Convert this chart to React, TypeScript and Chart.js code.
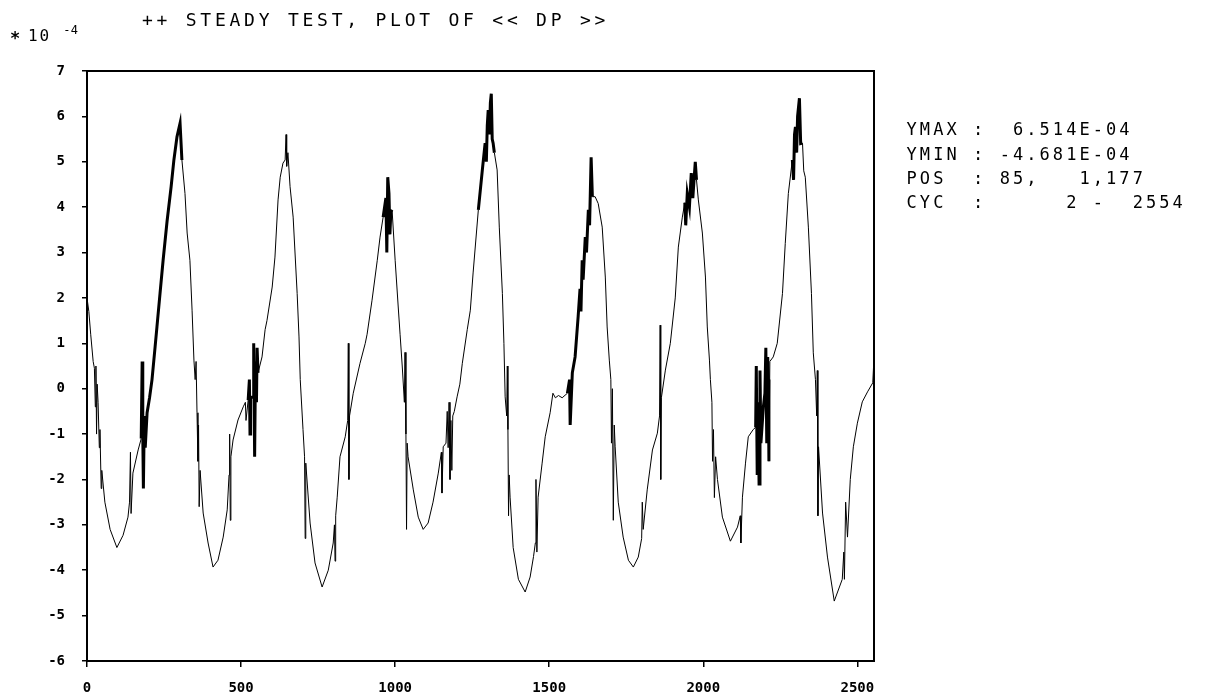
import React, { useEffect, useRef } from "react";
import { Chart, registerables } from "chart.js";

Chart.register(...registerables);

// ---- data (values in units of 1e-4) ----
const xValues: number[] = [
  0, 6, 12, 20, 24, 27, 29, 31, 33, 36, 40, 42, 46, 48, 58, 75, 97, 117, 133, 138,
  141, 143, 149, 166, 176, 179, 181, 183, 186, 189, 195, 203, 211, 221, 227, 237, 247, 260, 273, 282,
  292, 302, 308, 318, 325, 334, 341, 347, 351, 354, 357, 360, 362, 364, 367, 377, 393, 409, 425, 442,
  455, 461, 463, 465, 467, 474, 490, 507, 514, 516, 523, 527, 529, 531, 539, 541, 544, 547, 550, 552,
  555, 568, 578, 584, 601, 610, 620, 627, 636, 643, 646, 648, 652, 659, 669, 682, 688, 692, 701, 706,
  708, 710, 724, 740, 763, 783, 799, 803, 805, 807, 812, 821, 838, 846, 848, 850, 852, 864, 886, 903,
  909, 925, 942, 951, 961, 970, 973, 976, 980, 983, 986, 990, 1000, 1010, 1016, 1023, 1030, 1032, 1035, 1037,
  1039, 1042, 1059, 1075, 1091, 1107, 1123, 1140, 1150, 1152, 1156, 1165, 1169, 1172, 1175, 1178, 1181, 1184, 1187, 1192,
  1201, 1210, 1218, 1234, 1244, 1253, 1270, 1283, 1292, 1296, 1299, 1302, 1306, 1309, 1312, 1315, 1318, 1322, 1331, 1338,
  1348, 1353, 1357, 1362, 1364, 1366, 1368, 1370, 1373, 1383, 1400, 1422, 1438, 1449, 1455, 1457, 1460, 1464, 1477, 1487,
  1503, 1512, 1520, 1530, 1542, 1559, 1566, 1568, 1575, 1584, 1594, 1600, 1603, 1607, 1610, 1617, 1621, 1627, 1631, 1636,
  1640, 1649, 1659, 1672, 1682, 1688, 1695, 1700, 1702, 1705, 1708, 1711, 1714, 1724, 1740, 1757, 1773, 1789, 1800, 1802,
  1805, 1818, 1835, 1851, 1858, 1860, 1862, 1864, 1877, 1893, 1909, 1919, 1932, 1940, 1943, 1948, 1955, 1961, 1966, 1974,
  1978, 1984, 1997, 2007, 2013, 2020, 2023, 2028, 2030, 2033, 2036, 2040, 2046, 2062, 2088, 2111, 2120, 2122, 2127, 2137,
  2146, 2162, 2170, 2172, 2175, 2178, 2181, 2184, 2187, 2195, 2200, 2203, 2206, 2209, 2211, 2213, 2216, 2227, 2240, 2257,
  2266, 2276, 2289, 2293, 2296, 2299, 2303, 2306, 2312, 2316, 2322, 2326, 2331, 2341, 2351, 2357, 2364, 2368, 2370, 2372,
  2374, 2387, 2403, 2425, 2451, 2456, 2458, 2462, 2468, 2477, 2487, 2500, 2516, 2533, 2550, 2554,
];

const yValues: number[] = [
  2.0, 1.7, 1.2, 0.6, 0.45, -0.4, 0.5, -1.0, 0.1, -0.3, -1.3, -0.9, -2.2, -1.8, -2.5, -3.1, -3.5, -3.23, -2.83, -2.5,
  -1.4, -2.75, -1.86, -1.35, -1.1, 0.6, -1.0, -2.2, -0.6, -1.3, -0.53, -0.2, 0.2, 0.92, 1.36, 2.1, 2.83, 3.7, 4.45, 5.04,
  5.55, 5.85, 5.04, 4.3, 3.43, 2.83, 1.73, 0.63, 0.2, 0.6, -0.53, -1.6, -0.8, -2.6, -1.8, -2.74, -3.4, -3.93, -3.78, -3.27,
  -2.67, -1.9, -1.0, -2.9, -1.5, -1.13, -0.69, -0.4, -0.3, -0.7, -0.25, 0.2, -1.0, -0.2, -0.18, 1.0, -1.5, 0.6, -0.3, 0.9,
  0.35, 0.7, 1.3, 1.5, 2.24, 2.9, 4.16, 4.66, 4.97, 5.04, 5.6, 4.9, 5.2, 4.45, 3.78, 2.1, 1.14, 0.2, -0.9, -1.5,
  -3.3, -1.64, -2.96, -3.84, -4.37, -4.0, -3.4, -3.0, -3.8, -2.8, -2.39, -1.5, -1.06, -0.7, 1.0, -2.0, -0.6, -0.1, 0.56, 1.0,
  1.2, 1.95, 2.83, 3.34, 3.78, 4.2, 3.0, 4.66, 4.3, 3.4, 3.9, 3.94, 2.83, 1.8, 1.2, 0.5, -0.3, 0.8, -1.0, -3.1,
  -1.2, -1.5, -2.23, -2.83, -3.1, -2.96, -2.5, -1.86, -1.4, -2.3, -1.28, -1.2, -0.5, -1.3, -0.3, -2.0, -0.7, -1.8, -0.6, -0.5,
  -0.18, 0.1, 0.56, 1.3, 1.73, 2.55, 3.94, 4.82, 5.41, 5.0, 5.8, 6.14, 5.6, 6.3, 6.5, 5.5, 5.41, 5.2, 4.82, 3.56,
  2.1, 1.0, -0.18, -0.6, 0.5, -0.9, -2.8, -1.9, -2.39, -3.5, -4.2, -4.48, -4.15, -3.7, -3.4, -2.0, -3.6, -2.39, -1.64, -1.06,
  -0.53, -0.1, -0.2, -0.15, -0.2, -0.1, 0.2, -0.8, 0.35, 0.7, 1.6, 2.2, 1.7, 2.83, 2.4, 3.34, 3.0, 3.94, 3.6, 5.1,
  4.23, 4.23, 4.08, 3.56, 2.46, 1.36, 0.63, 0.2, -1.2, 0.0, -2.9, -0.8, -1.28, -2.5, -3.27, -3.78, -3.93, -3.71, -3.3, -2.5,
  -3.1, -2.23, -1.35, -0.98, -0.6, 1.4, -2.0, -0.2, 0.41, 1.0, 2.0, 3.12, 3.78, 4.1, 3.6, 4.3, 4.0, 4.75, 4.2, 5.0,
  4.6, 4.16, 3.43, 2.46, 1.36, 0.63, 0.2, -0.3, -1.6, -0.9, -2.4, -1.5, -2.0, -2.83, -3.36, -3.05, -2.8, -3.4, -2.39, -1.64,
  -1.06, -0.9, -0.85, 0.5, -1.9, -0.3, -2.1, 0.4, -1.2, -0.4, -0.1, 0.9, -1.2, 0.7, 0.2, -1.6, 0.6, 0.7, 1.0, 2.1,
  3.2, 4.3, 5.04, 4.6, 5.6, 5.77, 5.2, 6.0, 6.4, 5.4, 5.41, 4.8, 4.66, 3.56, 2.1, 0.79, 0.2, -0.6, 0.4, -2.8,
  -1.28, -2.74, -3.71, -4.68, -4.2, -3.6, -4.2, -2.5, -3.27, -2.0, -1.28, -0.76, -0.29, -0.07, 0.13, 0.7,
];

// x ranges where the plotted trace is densely hatched
const denseRanges: number[][] = [
  [175, 310], [520, 560], [955, 990], [1270, 1325], [1555, 1640], [1935, 1980], [2170, 2215], [2285, 2325],
];

const xTicks: number[] = [0, 500, 1000, 1500, 2000, 2500];
const yTicks: number[] = [7, 6, 5, 4, 3, 2, 1, 0, -1, -2, -3, -4, -5, -6];
const xMin = 0;
const xMax = 2554;
const yMin = -6;
const yMax = 7;

const titleText = "++ STEADY TEST, PLOT OF << DP >>";
const scaleMantissa = "10";
const scaleExponent = "-4";
const infoLines: string[] = [
  "YMAX :  6.514E-04",
  "YMIN : -4.681E-04",
  "POS  : 85,   1,177",
  "CYC  :      2 -  2554",
];

const MONO = "'DejaVu Sans Mono', 'Liberation Mono', monospace";

function drawMono(ctx: CanvasRenderingContext2D, text: string, x: number, y: number, pitch: number, size: number) {
  ctx.font = `${size}px ${MONO}`;
  ctx.textAlign = "center";
  ctx.textBaseline = "middle";
  for (let i = 0; i < text.length; i++) {
    const ch = text[i];
    if (ch !== " ") ctx.fillText(ch, x + i * pitch + pitch / 2, y);
  }
}

const decorPlugin = {
  id: "decor",
  afterDraw(chart: any) {
    const ctx: CanvasRenderingContext2D = chart.ctx;
    const a = chart.chartArea;
    ctx.save();
    ctx.strokeStyle = "#000";
    ctx.lineWidth = 2;
    ctx.strokeRect(a.left, a.top, a.right - a.left, a.bottom - a.top);
    ctx.fillStyle = "#000";
    drawMono(ctx, titleText, 140, 21, 14.6, 18);
    ctx.font = `bold 17px ${MONO}`;
    ctx.textAlign = "center";
    ctx.textBaseline = "middle";
    ctx.fillText("*", 15, 40);
    drawMono(ctx, scaleMantissa, 27, 37, 11.5, 16);
    drawMono(ctx, scaleExponent, 63, 31, 7.5, 12);
    infoLines.forEach((line, i) => {
      drawMono(ctx, line, 905, 131 + i * 24.3, 13.3, 17);
    });
    ctx.restore();
  },
};

function inDense(x: number) {
  return denseRanges.some((r) => x >= r[0] && x <= r[1]);
}

export default function App() {
  const ref = useRef<HTMLCanvasElement | null>(null);

  useEffect(() => {
    if (!ref.current) return;
    const points = xValues.map((x, i) => ({ x, y: yValues[i] }));
    const tickFont = { family: MONO, size: 14, weight: "bold" as const };
    const chart = new Chart(ref.current, {
      type: "scatter",
      data: {
        datasets: [
          {
            label: "DP",
            data: points,
            showLine: true,
            borderColor: "#000",
            backgroundColor: "#000",
            borderWidth: 1,
            pointRadius: 0,
            tension: 0,
            segment: {
              borderWidth: (c: any) => (inDense(c.p0.parsed.x) && inDense(c.p1.parsed.x) ? 3 : 1),
            },
          } as any,
        ],
      },
      options: {
        responsive: false,
        animation: false,
        devicePixelRatio: 1,
        layout: { padding: { left: 0, top: 71, right: 332, bottom: 0 } },
        plugins: { legend: { display: false }, tooltip: { enabled: false }, title: { display: false } },
        scales: {
          x: {
            type: "linear",
            min: xMin,
            max: xMax,
            afterBuildTicks: (s: any) => {
              s.ticks = xTicks.map((v) => ({ value: v }));
            },
            afterFit: (s: any) => {
              s.height = 36;
            },
            grid: { drawOnChartArea: false, drawTicks: true, tickLength: 6, color: "#000", lineWidth: 1.5 },
            border: { display: true, color: "#000", width: 2 },
            ticks: {
              color: "#000",
              font: tickFont,
              padding: 13,
              maxRotation: 0,
              autoSkip: false,
              callback: (v: any) => String(v),
            },
          },
          y: {
            type: "linear",
            min: yMin,
            max: yMax,
            afterBuildTicks: (s: any) => {
              s.ticks = yTicks.map((v) => ({ value: v }));
            },
            afterFit: (s: any) => {
              s.width = 87;
            },
            grid: { drawOnChartArea: false, drawTicks: true, tickLength: 5, color: "#000", lineWidth: 1.5 },
            border: { display: true, color: "#000", width: 2 },
            ticks: { color: "#000", font: tickFont, padding: 17, autoSkip: false, callback: (v: any) => String(v) },
          },
        },
      },
      plugins: [decorPlugin],
    });
    return () => chart.destroy();
  }, []);

  return (
    <div style={{ position: "fixed", left: 0, top: 0, width: 1206, height: 697, background: "#fff" }}>
      <canvas ref={ref} width={1206} height={697} style={{ display: "block", width: 1206, height: 697 }} />
    </div>
  );
}
